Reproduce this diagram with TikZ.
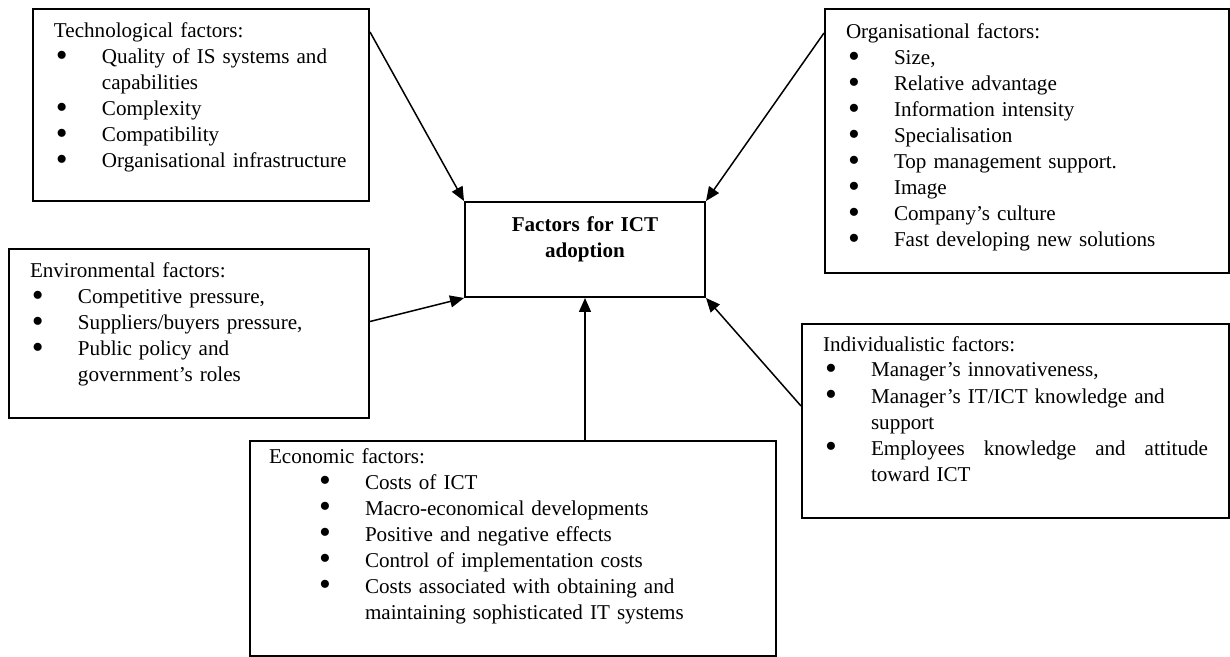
\documentclass[tikz,border=0pt]{standalone}
\usepackage{fontspec}
\setmainfont{Liberation Serif}
\usepackage{tikz}
\usetikzlibrary{arrows}
\usetikzlibrary{arrows.meta,positioning}
% bigger round bullet
\newcommand{\fdot}{\smash{\raisebox{-0.13em}{\scalebox{1.6}{\textbullet}}}}
% bullet line with hanging indent, optional extra indent
\newcommand{\fitem}[2][0pt]{\par\hangindent=\dimexpr#1+24pt\relax\hangafter=1\noindent\hbox to\dimexpr#1+24pt\relax{\hskip\dimexpr#1+1pt\relax\fdot\hfil}#2\par}

\begin{document}
\begin{tikzpicture}[x=0.5pt,y=-0.5pt,
    factor/.style={draw, line width=1pt, anchor=north west, align=left,
      inner xsep=10.5pt, inner ysep=0pt, font=\fontsize{10.55pt}{13pt}\selectfont},
    link/.style={line width=0.75pt, -{Triangle[length=7pt,width=6pt]}}]
    \useasboundingbox (0,0) rectangle (1230,657);

    \node[factor, text width=147pt, text height=14.5pt, text depth=81.5pt] (tech) at (32,8)
      {Technological factors:
       \fitem{Quality of IS systems and\newline capabilities}
       \fitem{Complexity}
       \fitem{Compatibility}
       \fitem{Organisational infrastructure}};

    \node[factor, text width=181pt, text height=15pt, text depth=117pt] (org) at (824,8)
      {Organisational factors:
       \fitem{Size,}
       \fitem{Relative advantage}
       \fitem{Information intensity}
       \fitem{Specialisation}
       \fitem{Top management support.}
       \fitem{Image}
       \fitem{Company’s culture}
       \fitem{Fast developing new solutions}};

    \node[factor, text width=159pt, text height=14.5pt, text depth=70pt] (env) at (8,248)
      {Environmental factors:
       \fitem{Competitive pressure,}
       \fitem{Suppliers/buyers pressure,}
       \fitem{Public policy and\newline government’s roles}};

    \node[draw, line width=1pt, anchor=north west, align=center, text width=110pt,
      inner xsep=5pt, inner ysep=0pt, text height=15pt, text depth=32.5pt,
      font=\fontsize{10.55pt}{13pt}\selectfont\bfseries] (hub) at (464,201)
      {Factors for ICT\\adoption};

    \node[factor, text width=192.5pt, text height=13.5pt, text depth=83.5pt] (indiv) at (801,323)
      {Individualistic factors:
       \fitem{Manager’s innovativeness,}
       \fitem{Manager’s IT/ICT knowledge and\newline support}
       \fitem{Employees\hfill knowledge\hfill and\hfill attitude\newline toward ICT}};

    \node[factor, inner xsep=9.5pt, text width=244pt, text height=11pt, text depth=96.5pt] (econ) at (249,440)
      {Economic factors:
       \fitem[24pt]{Costs of ICT}
       \fitem[24pt]{Macro-economical developments}
       \fitem[24pt]{Positive and negative effects}
       \fitem[24pt]{Control of implementation costs}
       \fitem[24pt]{Costs associated with obtaining and\newline maintaining sophisticated IT systems}};

    % arrows into the centre box
    \draw[link] ([yshift=-12pt]tech.north east) -- (hub.north west);
    \draw[link] ([yshift=-12.5pt]org.north west) -- (hub.north east);
    \draw[link] ([yshift=6pt]env.east) -- (hub.south west);
    \draw[link] (hub.south |- econ.north) -- (hub.south);
    \draw[link] ([yshift=7.5pt]indiv.west) -- (hub.south east);
\end{tikzpicture}
\end{document}
